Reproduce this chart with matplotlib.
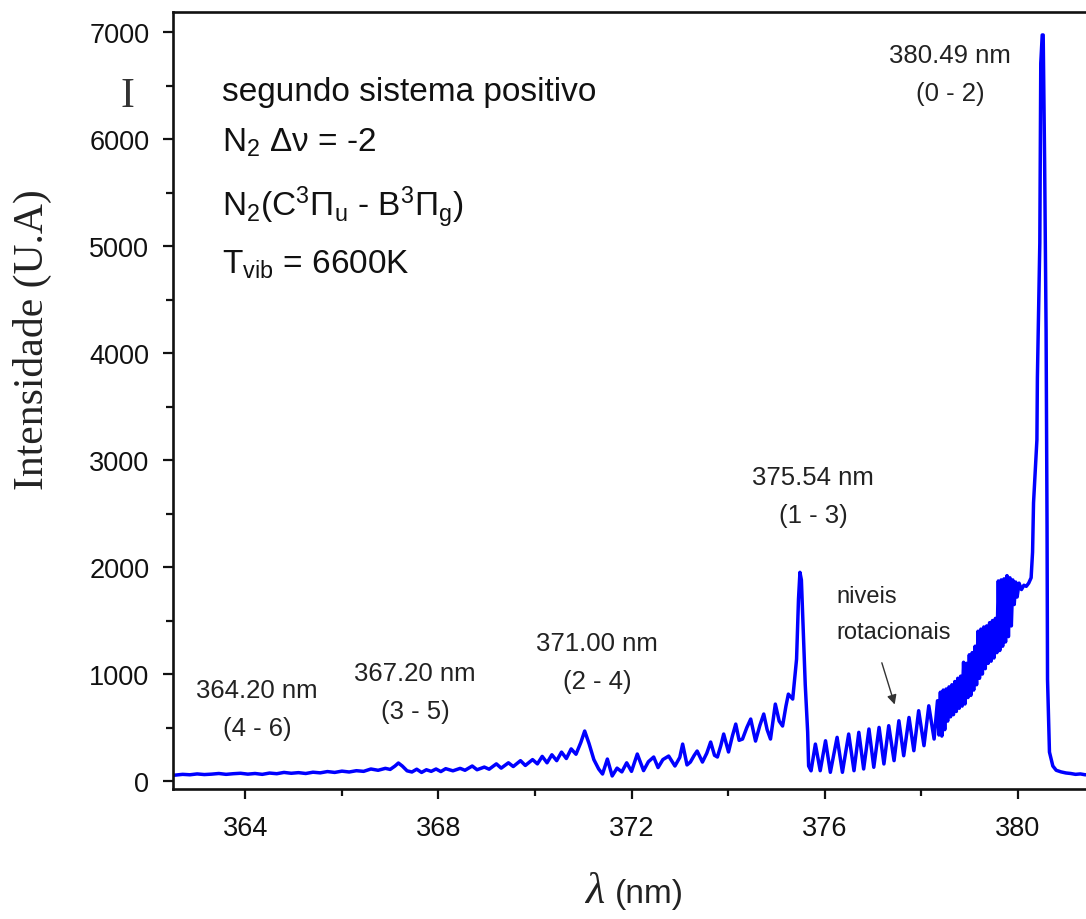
import numpy as np
import matplotlib
matplotlib.use("Agg")
import matplotlib.pyplot as plt
from matplotlib.ticker import MultipleLocator

plt.rcParams['font.family'] = ['Liberation Sans', 'DejaVu Sans']
plt.rcParams['mathtext.fontset'] = 'custom'
plt.rcParams['mathtext.rm'] = 'Liberation Sans'
plt.rcParams['mathtext.it'] = 'Liberation Sans:italic'
plt.rcParams['mathtext.bf'] = 'Liberation Sans:bold'

# espectro N2 (segundo sistema positivo), lido ponto a ponto
# fundo ate a banda (3 - 5)
lam_fundo = [362.55, 362.70, 362.85, 363.00, 363.15, 363.30, 363.45, 363.60, 363.75, 363.90,
             364.05, 364.20, 364.35, 364.50, 364.65, 364.80, 364.95, 365.10, 365.25, 365.40,
             365.55, 365.70, 365.85, 366.00, 366.15, 366.30, 366.45, 366.60, 366.75, 366.90, 367.00]
int_fundo = [55, 62, 58, 66, 60, 64, 70, 62, 68, 72,
             64, 70, 62, 74, 68, 80, 72, 78, 70, 82,
             76, 88, 80, 92, 84, 96, 90, 112, 100, 118, 108]

# bandas (3 - 5) e (2 - 4)
lam_b35 = [367.10, 367.17, 367.25, 367.35, 367.45, 367.55, 367.65, 367.75, 367.85, 367.95,
           368.05, 368.15, 368.30, 368.45, 368.55, 368.70, 368.80, 368.95, 369.05, 369.20,
           369.30, 369.45, 369.55, 369.70, 369.80, 369.95, 370.05, 370.15, 370.25, 370.35,
           370.45, 370.55, 370.65, 370.75, 370.85, 370.95, 371.03, 371.12, 371.22, 371.32, 371.40]
int_b35 = [140, 168, 140, 95, 84, 110, 80, 105, 90, 112,
           88, 115, 95, 118, 100, 140, 105, 130, 110, 160,
           120, 170, 135, 190, 145, 200, 160, 230, 170, 245,
           190, 270, 210, 300, 250, 360, 467, 350, 200, 112, 65]

# banda (1 - 3)
lam_b13 = [371.50, 371.60, 371.70, 371.80, 371.90, 372.00, 372.12, 372.25, 372.35, 372.46,
           372.55, 372.65, 372.77, 372.90, 373.00, 373.06, 373.15, 373.22, 373.30, 373.36,
           373.47, 373.56, 373.64, 373.72, 373.78, 373.85, 373.91, 374.01, 374.09, 374.16,
           374.23, 374.30, 374.39, 374.47, 374.57, 374.66, 374.74, 374.81, 374.88, 374.98,
           375.06, 375.13, 375.20, 375.25, 375.34, 375.42, 375.46, 375.49, 375.52, 375.56,
           375.60, 375.65, 375.67]
int_b13 = [205, 47, 120, 85, 170, 90, 252, 97, 180, 224,
           125, 200, 233, 140, 220, 345, 150, 177, 240, 280,
           177, 260, 364, 240, 224, 330, 439, 271, 420, 532,
           380, 392, 500, 579, 373, 520, 626, 480, 392, 719,
           560, 514, 700, 812, 766, 1139, 1700, 1951, 1880, 1400,
           900, 458, 140]

# niveis rotacionais da banda (0 - 2)
lam_rot = [375.72, 375.81, 375.91, 376.02, 376.12, 376.26, 376.37, 376.50, 376.61, 376.71,
           376.81, 376.92, 377.02, 377.13, 377.23, 377.33, 377.44, 377.54, 377.64, 377.75,
           377.85, 377.95, 378.06, 378.16, 378.27, 378.34, 378.37]
int_rot = [95, 345, 96, 376, 81, 408, 81, 439, 96, 455,
           112, 486, 128, 501, 159, 517, 190, 563, 236, 594,
           283, 657, 330, 703, 392, 750, 430]

# regiao densa antes da cabeca da banda
lam_denso = [378.40, 378.43, 378.46, 378.49, 378.52, 378.55, 378.58, 378.61, 378.64, 378.67,
             378.70, 378.73, 378.76, 378.79, 378.82, 378.85, 378.88, 378.91, 378.94, 378.97,
             379.00, 379.03, 379.06, 379.09, 379.12, 379.15, 379.18, 379.21, 379.24, 379.27,
             379.30, 379.33, 379.36, 379.39, 379.42, 379.45, 379.48, 379.51, 379.54, 379.57,
             379.60, 379.63, 379.66, 379.69, 379.72, 379.75, 379.78, 379.81, 379.84, 379.87,
             379.90, 379.93, 379.96, 379.99, 380.03, 380.08, 380.13, 380.18, 380.23, 380.28]
int_denso = [830, 420, 850, 480, 860, 560, 880, 600, 900, 620,
             930, 650, 960, 680, 980, 700, 1110, 720, 1100, 780,
             1180, 800, 1200, 850, 1260, 900, 1400, 960, 1420, 1000,
             1440, 1050, 1450, 1100, 1480, 1120, 1500, 1150, 1520, 1200,
             1870, 1220, 1880, 1260, 1890, 1300, 1920, 1350, 1900, 1450,
             1880, 1650, 1860, 1720, 1850, 1790, 1830, 1820, 1850, 1900]

# cabeca da banda (0 - 2) e fundo final
lam_pico = [380.31, 380.33, 380.37, 380.40, 380.41, 380.46, 380.48, 380.51, 380.53, 380.56,
            380.59, 380.61, 380.62, 380.66, 380.73, 380.80, 380.90, 381.00, 381.10, 381.20,
            381.30, 381.40, 381.50]
int_pico = [2140, 2600, 2940, 3190, 3770, 5030, 6710, 6975, 6975, 5780,
            4220, 2380, 950, 270, 140, 100, 85, 75, 70, 62,
            66, 58, 60]

rotulos = ["364.20 nm\n(4 - 6)", "367.20 nm\n(3 - 5)", "371.00 nm\n(2 - 4)",
           "375.54 nm\n(1 - 3)", "380.49 nm\n(0 - 2)"]

lam = np.concatenate([lam_fundo, lam_b35, lam_b13, lam_rot, lam_denso, lam_pico])
inten = np.concatenate([int_fundo, int_b35, int_b13, int_rot, int_denso, int_pico])

W, H = 1086, 920
fig = plt.figure(figsize=(W / 100, H / 100), dpi=100)
ax = fig.add_axes([173 / W, 130 / H, 917 / W, 777 / H])

ax.plot(lam, inten, color='#0000ff', lw=2.5)

ax.set_xlim(362.5, 381.5)
ax.set_ylim(-75, 7190)
ax.xaxis.set_major_locator(MultipleLocator(4))
ax.xaxis.set_minor_locator(MultipleLocator(2))
ax.yaxis.set_major_locator(MultipleLocator(1000))
ax.yaxis.set_minor_locator(MultipleLocator(500))
ax.tick_params(which='major', direction='out', length=7, width=1.6, labelsize=19.5,
               colors='#111111')
ax.tick_params(axis='x', which='major', pad=12)
ax.tick_params(axis='y', which='major', pad=10)
ax.tick_params(which='minor', direction='out', length=5, width=1.6, colors='#111111')
for s in ax.spines.values():
    s.set_linewidth(1.9)
    s.set_color('#111111')
ax.spines['right'].set_visible(False)

# rotulos das cabecas de banda (centro do texto, em pixels)
pos = [(257, 710), (415, 693), (597, 663), (813, 497), (950, 75)]
for txt, (px, py) in zip(rotulos, pos):
    fig.text(px / W, 1 - py / H, txt, ha='center', va='center', fontsize=18.5,
             color='#222222', linespacing=1.7)

# bloco de informacoes
info = ["segundo sistema positivo",
        r"N$_2$ Δν = -2",
        r"N$_2$(C$^3\Pi_\mathrm{u}$ - B$^3\Pi_\mathrm{g}$)",
        r"T$_\mathrm{vib}$ = 6600K"]
for txt, py in zip(info, [93, 143, 207, 265]):
    fig.text(222 / W, 1 - py / H, txt, ha='left', va='center', fontsize=24, color='#111111')

fig.text(127 / W, 1 - 97 / H, "I", ha='center', va='center', fontsize=30,
         family='Liberation Serif', color='#333333')

fig.text(836 / W, 1 - 597 / H, "niveis", ha='left', va='center', fontsize=17, color='#222222')
fig.text(836 / W, 1 - 633 / H, "rotacionais", ha='left', va='center', fontsize=17, color='#222222')
ax.annotate("", xy=(377.47, 690), xytext=(377.17, 1130),
            arrowprops=dict(arrowstyle='-|>', color='#333333', lw=1.0, mutation_scale=14))

fig.text(32 / W, 1 - 340 / H, "Intensidade (U.A)", rotation=90, ha='center', va='center',
         fontsize=30, family='Liberation Serif', color='#222222')
fig.text(595 / W, 1 - 892 / H, "λ", ha='center', va='center', fontsize=32,
         family='Liberation Serif', style='italic', color='#222222')
fig.text(649 / W, 1 - 895 / H, "(nm)", ha='center', va='center', fontsize=24, color='#222222')

fig.savefig("out.png", dpi=100)
